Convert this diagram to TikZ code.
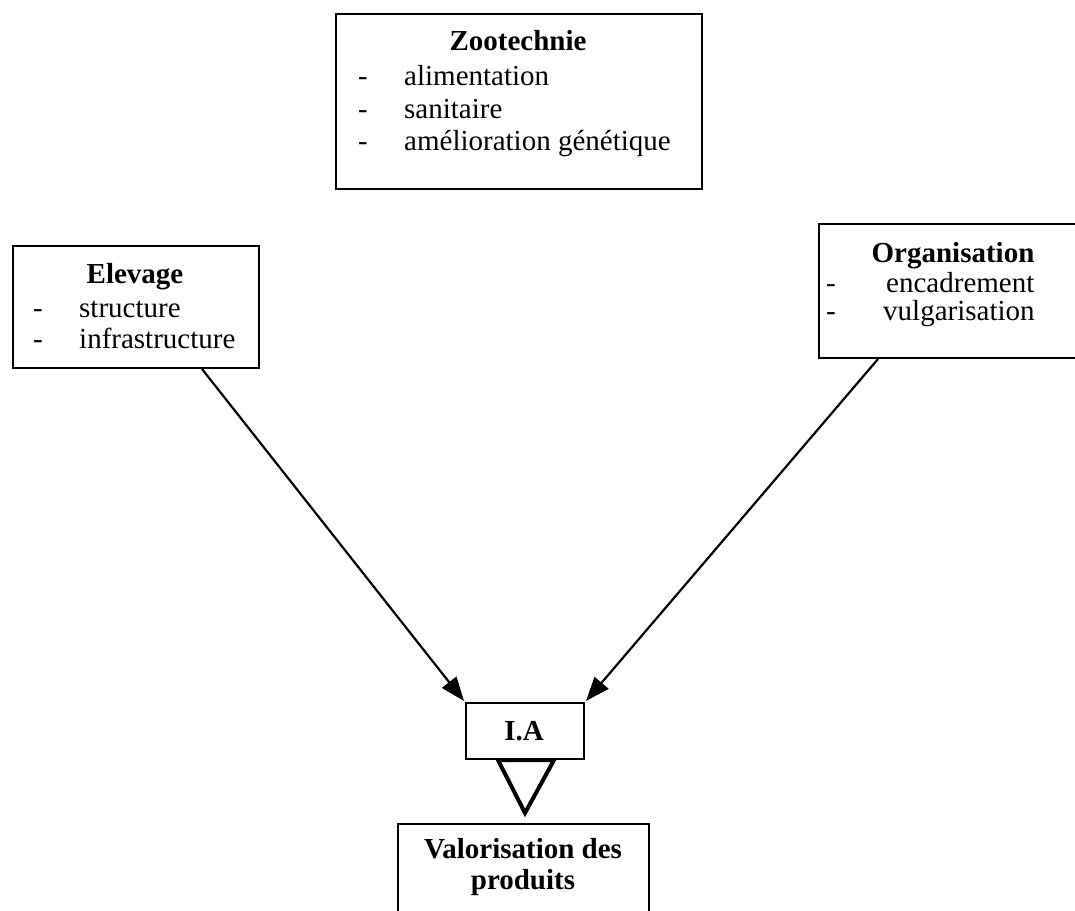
\documentclass[tikz,border=0pt]{standalone}
\usepackage{fontspec}
\setmainfont{Liberation Serif}
\usetikzlibrary{arrows.meta}
\begin{document}
\begin{tikzpicture}[x=1pt,y=-1pt,
  box/.style={draw, line width=2pt, inner sep=0pt, anchor=north west},
  txt/.style={inner sep=0pt, anchor=base west, font=\fontsize{29}{33}\selectfont},
  ttl/.style={inner sep=0pt, anchor=base, font=\fontsize{29}{33}\selectfont\bfseries},
  arr/.style={line width=2.2pt, -{Triangle[length=24pt,width=18pt]}}]
\useasboundingbox[fill=white] (0,0) rectangle (1075,910);
% boxes
\node[box, minimum width=366pt, minimum height=175pt] (zoo) at (335,13) {};
\node[box, minimum width=246pt, minimum height=122pt] (ele) at (12,245) {};
\node[box, minimum width=280pt, minimum height=134pt] (org) at (818,223) {};
\node[box, minimum width=118pt, minimum height=56pt] (ia) at (465,702) {};
\node[box, minimum width=251pt, minimum height=120pt] (val) at (397,823) {};
% Zootechnie
\node[ttl] (zt) at (518,50) {Zootechnie};
\node[txt] (zd1) at (358,85) {-};
\node[txt] (zd2) at (358,118) {-};
\node[txt] (zd3) at (358,150) {-};
\node[txt] (z1) at (404,85) {alimentation};
\node[txt] (z2) at (404,118) {sanitaire};
\node[txt] (z3) at (404,150) {amélioration génétique};
% Elevage
\node[ttl] (et) at (135,283) {Elevage};
\node[txt] (ed1) at (33,317) {-};
\node[txt] (ed2) at (33,348) {-};
\node[txt] (e1) at (79,317) {structure};
\node[txt] (e2) at (79,348) {infrastructure};
% Organisation
\node[ttl] (ot) at (953,262) {Organisation};
\node[txt] (od1) at (826,292) {-};
\node[txt] (od2) at (826,320) {-};
\node[txt] (o1) at (886,292) {encadrement};
\node[txt] (o2) at (883,320) {vulgarisation};
% I.A and Valorisation
\node[ttl] (iat) at (524,740) {I.A};
\node[ttl] (v1) at (523,858) {Valorisation des};
\node[ttl] (v2) at (523,889) {produits};
% arrows
\draw[arr] ([xshift=190pt]ele.south west) -- ([xshift=-1pt,yshift=1pt]ia.north west);
\draw[arr] ([xshift=60pt]org.south west) -- ([xshift=1pt,yshift=1pt]ia.north east);
% triangle
\coordinate (apex) at (525,813);
\draw[line width=4pt, line join=miter] ([xshift=33pt]ia.south west) -- (apex) -- ([xshift=-31pt]ia.south east) -- cycle;
\end{tikzpicture}
\end{document}
